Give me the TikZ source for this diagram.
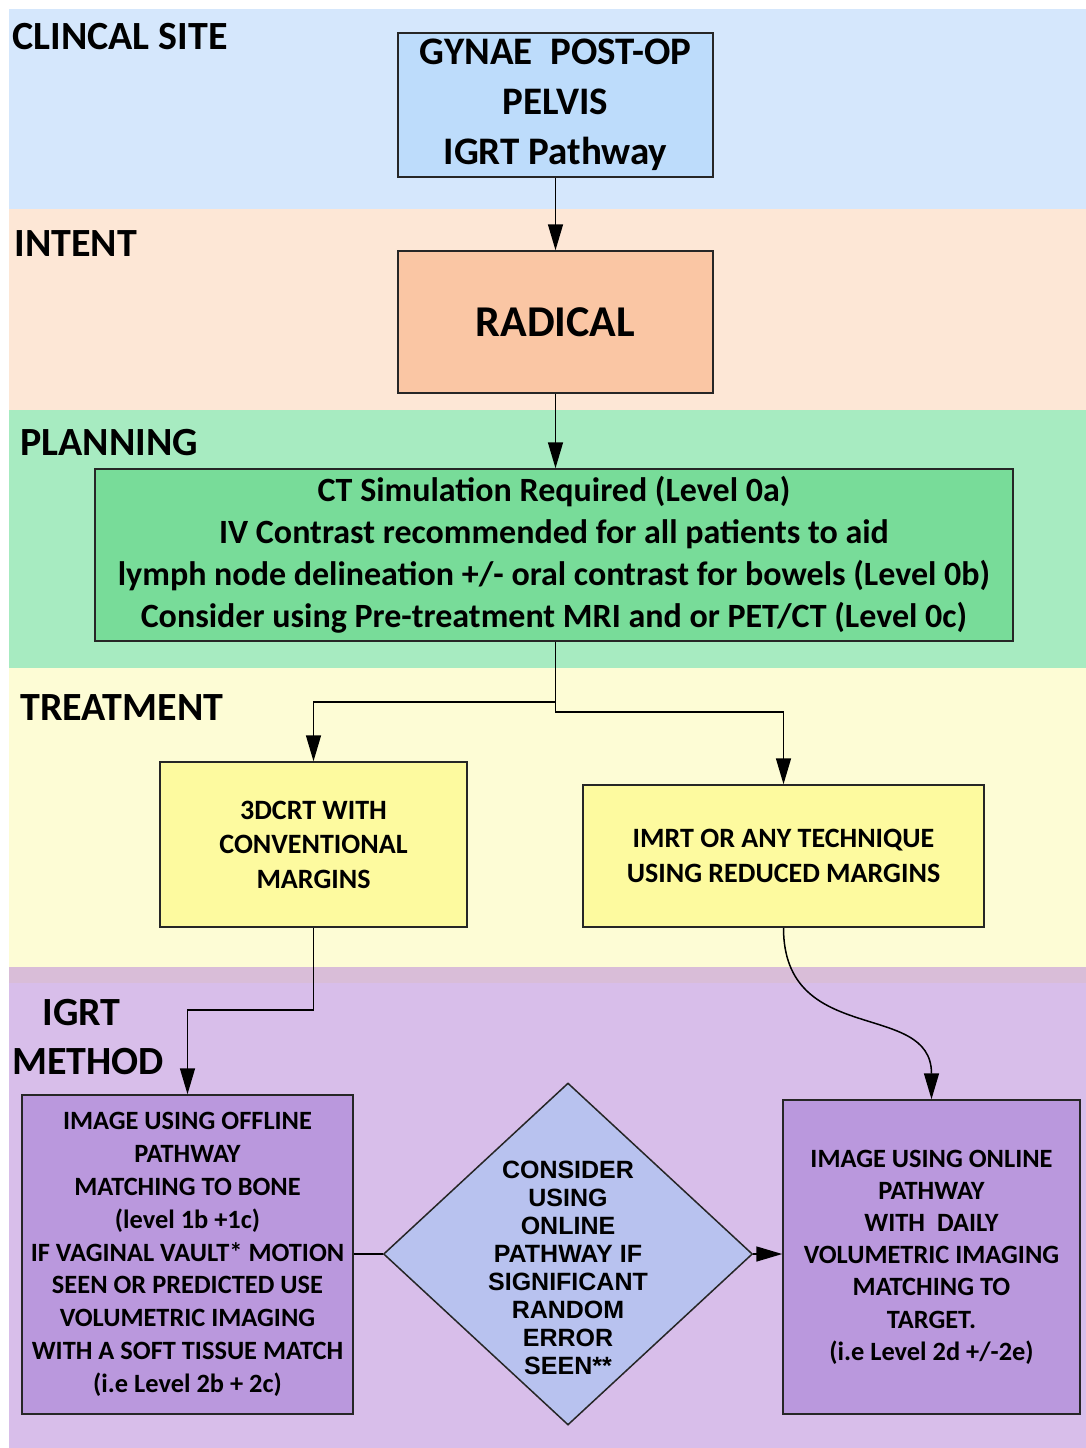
\documentclass[tikz,border=0pt]{standalone}
\usepackage{fontspec}
\setmainfont{Carlito}
\newfontfamily\arialfont{Liberation Sans}
\usetikzlibrary{arrows.meta,shapes.geometric}
\definecolor{bandblue}{HTML}{D5E7FC}
\definecolor{bandpeach}{HTML}{FDE7D6}
\definecolor{bandgreen}{HTML}{A7EBC1}
\definecolor{bandyellow}{HTML}{FDFCD5}
\definecolor{bandtrans}{HTML}{D9BDD8}
\definecolor{bandpurple}{HTML}{D8BEEA}
\definecolor{boxblue}{HTML}{BDDCFB}
\definecolor{boxpeach}{HTML}{FAC6A4}
\definecolor{boxgreen}{HTML}{78DC99}
\definecolor{boxyellow}{HTML}{FDFA9F}
\definecolor{boxpurple}{HTML}{BA98DD}
\definecolor{boxdiamond}{HTML}{B8C2EF}
\begin{document}
\begin{tikzpicture}[x=0.5pt,y=-0.5pt,
  box/.style={draw=black!85, line width=0.75pt, align=center, inner sep=0pt, font=\bfseries},
  seclabel/.style={anchor=base west, inner sep=0pt, font=\bfseries\fontsize{20}{24}\selectfont},
  arr/.style={draw=black, line width=0.75pt, -{Triangle[length=13pt,width=7.5pt]}},
  conn/.style={draw=black, line width=0.75pt}]
\useasboundingbox (0,0) rectangle (1086,1448);
\fill[white] (0,0) rectangle (1086,1448);
% bands
\fill[bandblue] (9,9) rectangle (1086,209);
\fill[bandpeach] (9,209) rectangle (1086,410);
\fill[bandgreen] (9,410) rectangle (1086,668);
\fill[bandyellow] (9,668) rectangle (1086,967);
\fill[bandtrans] (9,967) rectangle (1086,983);
\fill[bandpurple] (9,983) rectangle (1086,1448);
% section labels
\node[seclabel] (lclin) at (12,49) {CLINCAL SITE};
\node[seclabel] (lint) at (14,256) {INTENT};
\node[seclabel] (lplan) at (20,455) {PLANNING};
\node[seclabel] (ltreat) at (20,720) {TREATMENT};
\node[seclabel] (ligrt) at (42,1025) {IGRT};
\node[seclabel] (lmeth) at (12,1074) {METHOD};
% boxes
\node[box, fill=boxblue, minimum width=157.5pt, minimum height=72pt,
  font=\bfseries\fontsize{19.5}{25}\selectfont] (gynae) at (555.5,105)
  {GYNAE\ \ POST-OP\\PELVIS\\IGRT Pathway};
\node[box, fill=boxpeach, minimum width=157.5pt, minimum height=71pt,
  font=\bfseries\fontsize{22}{26}\selectfont] (radical) at (555.5,322) {RADICAL};
\node[box, fill=boxgreen, minimum width=459pt, minimum height=86pt,
  font=\bfseries\fontsize{17}{21}\selectfont] (plan) at (554,555)
  {CT Simulation Required (Level 0a)\\
   IV Contrast recommended for all patients to aid\\
   lymph node delineation +/- oral contrast for bowels (Level 0b)\\
   Consider using Pre-treatment MRI and or PET/CT (Level 0c)};
\node[box, fill=boxyellow, minimum width=153.5pt, minimum height=82.5pt,
  font=\bfseries\fontsize{14}{17.25}\selectfont] (crt) at (313.5,844.5)
  {3DCRT WITH\\CONVENTIONAL\\MARGINS};
\node[box, fill=boxyellow, minimum width=200.5pt, minimum height=71pt,
  font=\bfseries\fontsize{14}{17.5}\selectfont] (imrt) at (783.5,856)
  {IMRT OR ANY TECHNIQUE\\USING REDUCED MARGINS};
\node[box, fill=boxpurple, minimum width=165.5pt, minimum height=159.5pt,
  font=\bfseries\fontsize{13.2}{16.4}\selectfont] (offline) at (187.5,1254.5)
  {IMAGE USING OFFLINE\\PATHWAY\\MATCHING TO BONE\\(level 1b +1c)\\
   IF VAGINAL VAULT* MOTION\\SEEN OR PREDICTED USE\\VOLUMETRIC IMAGING\\
   WITH A SOFT TISSUE MATCH\\(i.e Level 2b + 2c)};
\node[box, fill=boxpurple, minimum width=148.5pt, minimum height=157pt,
  font=\bfseries\fontsize{13.2}{16.1}\selectfont] (online) at (931.5,1257)
  {IMAGE USING ONLINE\\PATHWAY\\WITH\ \ DAILY\\VOLUMETRIC IMAGING\\
   MATCHING TO\\TARGET.\\(i.e Level 2d +/-2e)};
\node[draw=black!85, line width=0.75pt, fill=boxdiamond, shape=diamond,
  minimum width=184.5pt, minimum height=171pt, inner sep=0pt] (dia) at (568,1254) {};
\node[align=center, inner sep=0pt, font=\arialfont\bfseries\fontsize{12.5}{14}\selectfont]
  (diatext) at (568,1268)
  {CONSIDER\\USING\\ONLINE\\PATHWAY IF\\SIGNIFICANT\\RANDOM\\ERROR\\SEEN**};
% connectors
\coordinate (pout) at (plan.south -| radical.south);
\draw[arr] (gynae.south) -- (radical.north);
\draw[arr] (radical.south) -- (radical.south |- plan.north);
\draw[arr] (pout) -- (pout |- 0,702) -| (crt.north);
\draw[arr] (pout) -- (pout |- 0,712) -| (imrt.north);
\draw[arr] (crt.south) -- (crt.south |- 0,1010) -| (offline.north);
\draw[arr] (imrt.south) .. controls +(0,120) and +(0,-100) .. (online.north);
\draw[conn] (offline.east |- dia.west) -- (dia.west);
\draw[arr] (dia.east) -- (dia.east -| online.west);
\end{tikzpicture}
\end{document}
